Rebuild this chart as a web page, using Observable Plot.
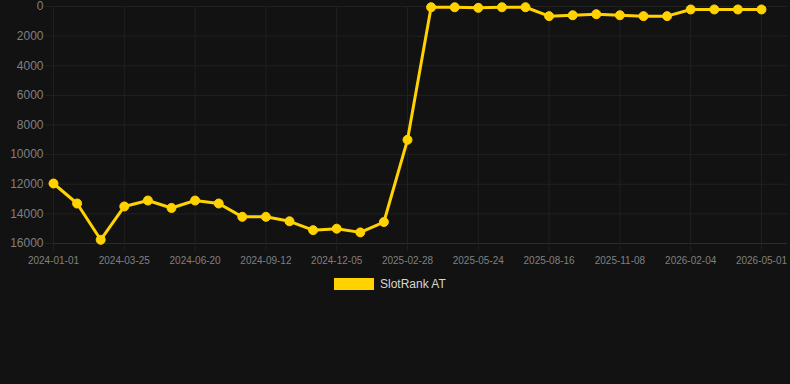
<!DOCTYPE html>
<html>
<head>
<meta charset="utf-8">
<script src="https://cdn.jsdelivr.net/npm/d3@7"></script>
<script src="https://cdn.jsdelivr.net/npm/@observablehq/plot@0.6"></script>
<style>
  html, body { margin: 0; padding: 0; background: #121212; }
  #wrap { position: relative; width: 790px; height: 384px; background: #121212; overflow: hidden;
          font-family: Arial, "Liberation Sans", Helvetica, sans-serif; }
  #legend { position: absolute; left: 334px; top: 278px; display: flex; align-items: center; }
  #legend .sw { width: 40px; height: 12px; background: #ffd200; }
  #legend .lb { margin-left: 6px; font-size: 12px; color: #d6d6d6; line-height: 12px; }
</style>
</head>
<body>
<div id="wrap">
  <div id="chart"></div>
  <div id="legend"><div class="sw"></div><div class="lb">SlotRank AT</div></div>
</div>
<script>
const seriesName = "SlotRank AT";
const dates = [
  "2024-01-01","2024-01-29","2024-02-26","2024-03-25","2024-04-24","2024-05-22",
  "2024-06-20","2024-07-18","2024-08-15","2024-09-12","2024-10-10","2024-11-07",
  "2024-12-05","2025-01-02","2025-01-31","2025-02-28","2025-03-28","2025-04-26",
  "2025-05-24","2025-06-21","2025-07-19","2025-08-16","2025-09-13","2025-10-11",
  "2025-11-08","2025-12-07","2026-01-06","2026-02-04","2026-03-04","2026-04-02",
  "2026-05-01"
];
const ranks = [
  11950, 13300, 15750, 13500, 13100, 13600,
  13100, 13300, 14200, 14200, 14500, 15100,
  15000, 15250, 14550, 9000, 50, 50,
  90, 50, 50, 650, 590, 520,
  590, 650, 650, 200, 200, 200,
  200
];
const xTicks = ["2024-01-01","2024-03-25","2024-06-20","2024-09-12","2024-12-05","2025-02-28",
                "2025-05-24","2025-08-16","2025-11-08","2026-02-04","2026-05-01"];
const yTicks = [0, 2000, 4000, 6000, 8000, 10000, 12000, 14000, 16000];

const data = dates.map((d, i) => ({date: d, rank: ranks[i], series: seriesName}));
const lineColor = "#ffd200";
const gridColor = "#202020";

const chart = Plot.plot({
  width: 790,
  height: 270,
  marginLeft: 53,
  marginRight: 3,
  marginTop: 6,
  marginBottom: 27,
  style: {background: "#121212", color: "#808080", fontFamily: 'Arial, "Liberation Sans", Helvetica, sans-serif', fontSize: "12px"},
  x: {type: "point", domain: dates, range: [53, 761], padding: 0, round: false},
  y: {domain: [0, 16000], reverse: true},
  marks: [
    Plot.gridY(yTicks, {stroke: gridColor, strokeOpacity: 1}),
    Plot.gridX(xTicks, {stroke: gridColor, strokeOpacity: 1}),
    Plot.ruleY([16000], {stroke: "#2c2c2c"}),
    Plot.axisY(yTicks, {tickSize: 8, stroke: gridColor, tickPadding: 2, tickFormat: d => String(d), fill: "#808080", fontSize: 12, label: null}),
    Plot.axisX(xTicks, {tickSize: 8, stroke: gridColor, tickPadding: 5, fill: "#808080", fontSize: 10, label: null}),
    Plot.line(data, {x: "date", y: "rank", stroke: lineColor, strokeWidth: 3}),
    Plot.dot(data, {x: "date", y: "rank", r: 4.5, fill: lineColor, stroke: lineColor, strokeWidth: 1})
  ]
});
document.getElementById("chart").appendChild(chart);
</script>
</body>
</html>
